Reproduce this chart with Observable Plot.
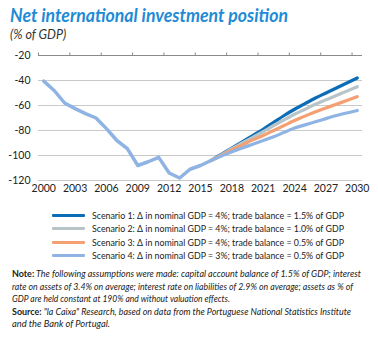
<!DOCTYPE html>
<html>
<head>
<meta charset="utf-8">
<script src="https://cdn.jsdelivr.net/npm/d3@7"></script>
<script src="https://cdn.jsdelivr.net/npm/@observablehq/plot@0.6"></script>
<style>
  html, body { margin: 0; padding: 0; background: #fff; }
  body { width: 378px; height: 338px; position: relative; overflow: hidden; font-family: Lato, "Noto Sans", sans-serif; color: #222; }
  #title { position: absolute; left: 10px; top: 4px; font-size: 18px; font-weight: bold; font-style: italic; color: #1f8bd6; white-space: nowrap; }
  #subtitle { position: absolute; left: 10px; top: 27px; font-size: 12.5px; font-style: italic; color: #333; }
  #chart { position: absolute; left: 0; top: 45px; }
  #legend { position: absolute; left: 52px; top: 209px; font-size: 9.5px; color: #222; }
  .lrow { height: 13.3px; display: flex; align-items: center; white-space: nowrap; }
  .lsw { width: 33px; height: 3px; margin-right: 7px; border-radius: 1px; flex: none; }
  .fit { display: inline-block; transform-origin: 0 50%; white-space: nowrap; }
  #note { position: absolute; left: 12px; top: 268px; font-size: 9.5px; line-height: 12.5px; font-style: italic; color: #222; }
  #note .ln { height: 12.5px; }
  #note b { font-style: normal; }
</style>
</head>
<body>
<div id="title"><span class="fit" data-w="278">Net international investment position</span></div>
<div id="subtitle">(% of GDP)</div>
<div id="chart"></div>
<div id="legend"></div>
<div id="note">
  <div class="ln"><span class="fit" data-w="349"><b>Note:</b> The following assumptions were made: capital account balance of 1.5% of GDP; interest</span></div>
  <div class="ln"><span class="fit" data-w="341">rate on assets of 3.4% on average; interest rate on liabilities of 2.9% on average; assets as % of</span></div>
  <div class="ln"><span class="fit" data-w="218">GDP are held constant at 190% and without valuation effects.</span></div>
  <div class="ln"><span class="fit" data-w="339"><b>Source:</b> "la Caixa" Research, based on data from the Portuguese National Statistics Institute</span></div>
  <div class="ln"><span class="fit" data-w="98">and the Bank of Portugal.</span></div>
</div>
<script>
const histYears = [2000,2001,2002,2003,2004,2005,2006,2007,2008,2009,2010,2011,2012,2013,2014,2015,2016];
const histValues = [-40.5,-48,-58,-62.5,-66.5,-70,-78.5,-88,-94.5,-108,-105,-101.5,-114,-118,-111,-108,-104];
const scenYears = [2016,2017,2018,2019,2020,2021,2022,2023,2024,2025,2026,2027,2028,2029,2030];
const scen1 = [-104,-99,-94,-89,-84,-79,-73.5,-68,-63,-58.5,-54,-50,-46,-42,-38];
const scen2 = [-104,-99.5,-94.5,-90,-85.5,-81,-76,-71.5,-67,-63,-59,-55.5,-52,-48.5,-45];
const scen3 = [-104,-100,-95.5,-91.5,-87.5,-84,-80,-76,-72,-68.5,-65,-62,-59,-56,-53];
const scen4 = [-104,-100.5,-97,-94,-91,-88,-85,-81.5,-78,-75.5,-73,-70.5,-68,-66,-64];
const scenNames = [
  "Scenario 1: \u0394 in nominal GDP = 4%; trade balance = 1.5% of GDP",
  "Scenario 2: \u0394 in nominal GDP = 4%; trade balance = 1.0% of GDP",
  "Scenario 3: \u0394 in nominal GDP = 4%; trade balance = 0.5% of GDP",
  "Scenario 4: \u0394 in nominal GDP = 3%; trade balance = 0.5% of GDP"
];
const scenColors = ["#0b6cb8", "#b7c4c8", "#f4a072", "#8fb3e2"];
const xLabelYears = [2000,2003,2006,2009,2012,2015,2018,2021,2024,2027,2030];
const xTickBounds = [1999.5,2002.5,2005.5,2008.5,2011.5,2014.5,2017.5,2020.5,2023.5,2026.5,2029.5];
const yTicks = [-20,-40,-60,-80,-100,-120];
const gridTicks = [-40,-60,-80,-100,-120];

const scenSeries = [scen1, scen2, scen3, scen4];
const scenData = scenSeries.map((vals, i) => scenYears.map((y, j) => ({year: y, value: vals[j], s: i})));
const histData = histYears.map((y, i) => ({year: y, value: histValues[i]}));

const chart = Plot.plot({
  width: 378,
  height: 155,
  marginLeft: 38,
  marginRight: 16,
  marginTop: 10,
  marginBottom: 20,
  style: {fontFamily: "Lato, 'Noto Sans', sans-serif", fontSize: "10.5px", color: "#222", background: "transparent"},
  x: {domain: [1999.5, 2030.5], label: null},
  y: {domain: [-120, -20], label: null},
  marks: [
    Plot.ruleY(gridTicks, {stroke: "#c9c9c9", strokeWidth: 1}),
    Plot.ruleY([-20], {stroke: "#8a8a8a", strokeWidth: 1}),
    Plot.axisX({anchor: "top", ticks: xTickBounds, tickFormat: () => "", tickSize: 3.5, stroke: "#8a8a8a", label: null}),
    Plot.axisX({anchor: "bottom", ticks: xLabelYears, tickFormat: d => String(d), tickSize: 0, tickPadding: 4, fill: "#222", label: null}),
    Plot.axisY({ticks: yTicks, tickFormat: d => String(d), tickSize: 0, tickPadding: 8, fill: "#222", label: null}),
    ...scenData.map((d, i) => Plot.line(d, {x: "year", y: "value", stroke: scenColors[i], strokeWidth: 3.2, curve: "monotone-x"})),
    Plot.line(histData, {x: "year", y: "value", stroke: scenColors[3], strokeWidth: 3.5, strokeLinejoin: "round"})
  ]
});
document.getElementById("chart").appendChild(chart);

const legend = document.getElementById("legend");
scenNames.forEach((name, i) => {
  const row = document.createElement("div");
  row.className = "lrow";
  const sw = document.createElement("span");
  sw.className = "lsw";
  sw.style.background = scenColors[i];
  const tx = document.createElement("span");
  tx.className = "fit";
  tx.dataset.w = "252";
  tx.textContent = name;
  row.appendChild(sw);
  row.appendChild(tx);
  legend.appendChild(row);
});

document.querySelectorAll(".fit").forEach(el => {
  const target = +el.dataset.w;
  const w = el.getBoundingClientRect().width;
  if (w > 0 && target > 0) el.style.transform = `scaleX(${target / w})`;
});
</script>
</body>
</html>
